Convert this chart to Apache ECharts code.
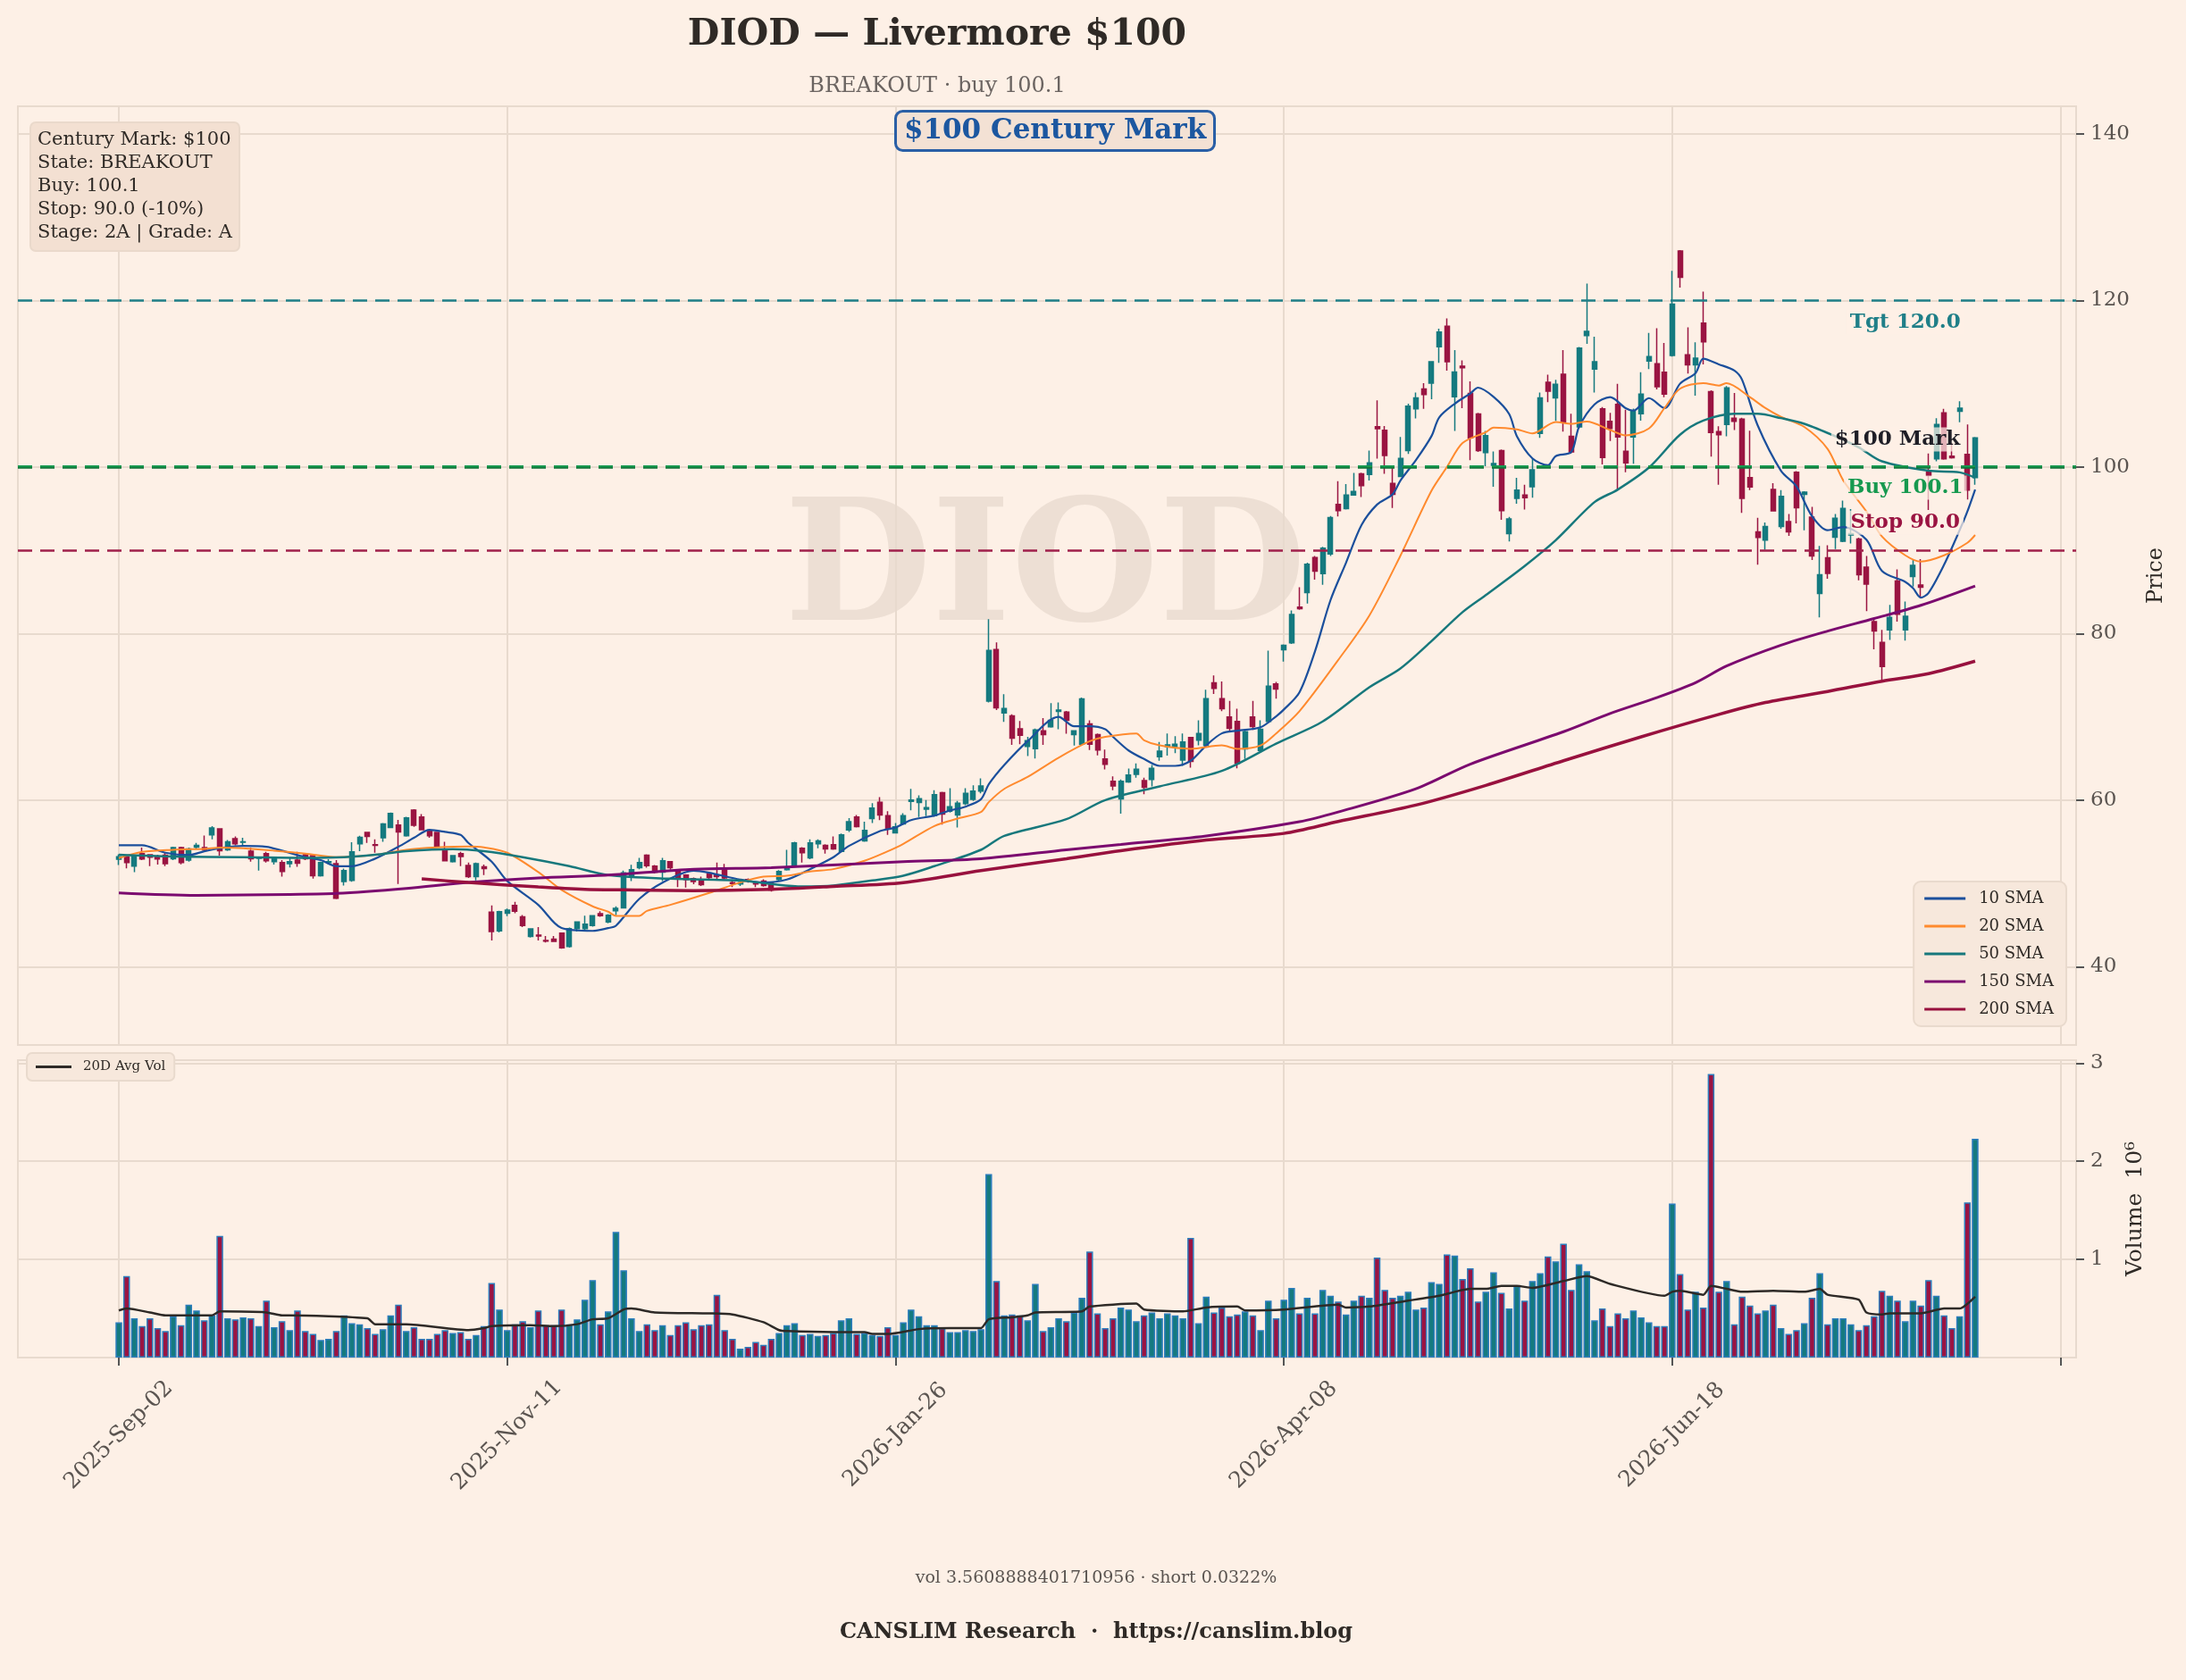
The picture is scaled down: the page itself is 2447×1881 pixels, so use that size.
<!DOCTYPE html>
<html>
<head>
<meta charset="utf-8">
<title>DIOD — Livermore $100</title>
<script src="https://cdn.jsdelivr.net/npm/echarts@6/dist/echarts.min.js"></script>
<style>
  html, body { margin: 0; padding: 0; background: #fdf0e6; }
  #chart { width: 2447px; height: 1881px; }
</style>
</head>
<body>
<div id="chart"></div>
<script>
// daily bars, index 0 = 2025-09-02
var opens = [
  52.9, 53.15, 52.07, 53.57, 53.43, 53.15, 53.4, 52.97, 54.29, 52.79,
  54.36, 54.29, 55.82, 56.54, 54.04, 55.36, 54.93, 53.86, 53.0, 53.57,
  52.61, 52.5, 52.36, 52.79, 53.43, 53.32, 50.93, 52.5, 52.36, 50.22,
  50.36, 54.75, 56.11, 54.65, 55.47, 56.72, 57.0, 55.72, 58.79, 57.97,
  56.36, 56.11, 54.04, 52.61, 53.57, 52.15, 50.82, 52.0, 46.54, 44.29,
  46.43, 47.36, 46.0, 43.64, 43.79, 43.14, 43.32, 44.04, 42.43, 44.57,
  44.57, 44.93, 46.36, 45.36, 46.72, 47.06, 50.92, 51.89, 53.39, 52.07,
  51.35, 52.6, 51.53, 50.99, 50.56, 50.35, 51.17, 51.0, 51.71, 50.1,
  49.92, 50.46, 50.1, 50.28, 50.1, 50.46, 51.64, 52.14, 54.21, 53.07,
  54.75, 54.57, 54.64, 53.85, 56.42, 57.96, 55.1, 57.78, 59.75, 58.14,
  56.07, 57.14, 59.85, 59.71, 58.92, 58.14, 60.89, 58.67, 58.21, 59.57,
  60.1, 61.07, 71.89, 78.07, 70.47, 70.11, 68.57, 66.43, 66.18, 68.32,
  68.79, 70.64, 70.57, 67.86, 66.71, 69.14, 67.86, 64.93, 62.25, 60.13,
  62.18, 63.09, 62.35, 62.47, 65.22, 66.42, 66.42, 64.81, 67.52, 67.19,
  66.57, 74.08, 72.19, 69.97, 69.44, 66.16, 69.97, 65.96, 69.44, 73.96,
  78.06, 78.88, 83.18, 84.91, 89.13, 87.2, 89.54, 95.49, 95.0, 96.64,
  99.18, 99.1, 104.84, 104.39, 98.03, 98.85, 101.97, 106.97, 109.35, 110.05,
  114.44, 116.9, 108.41, 112.1, 108.82, 106.36, 101.72, 100.2, 101.97, 92.0,
  96.23, 96.64, 97.62, 104.02, 110.17, 108.29, 111.12, 103.68, 104.8, 115.78,
  111.76, 106.98, 105.48, 107.51, 101.87, 103.6, 106.38, 112.7, 112.4, 111.38,
  113.37, 125.93, 113.45, 112.25, 117.28, 109.05, 104.24, 105.11, 105.86, 105.75,
  98.71, 92.21, 91.2, 97.29, 92.85, 93.45, 99.35, 96.72, 93.98, 84.8,
  89.09, 91.57, 91.08, 91.83, 91.35, 87.96, 81.42, 78.94, 80.44, 86.31,
  80.44, 86.83, 85.82, 99.35, 100.97, 106.49, 101.3, 106.68, 101.5, 98.71
];
var closes = [
  53.2, 52.5, 53.32, 52.93, 53.15, 52.93, 52.36, 54.29, 52.5, 54.15,
  54.57, 54.04, 56.65, 53.93, 55.0, 54.75, 55.0, 52.97, 53.15, 52.72,
  53.07, 51.43, 52.61, 52.43, 52.97, 50.93, 52.5, 52.6, 48.22, 51.54,
  53.79, 55.54, 55.65, 54.57, 57.15, 58.4, 56.18, 57.86, 56.97, 56.43,
  55.72, 54.4, 52.72, 53.32, 53.22, 50.82, 52.36, 51.79, 44.22, 46.61,
  46.79, 46.65, 44.93, 44.54, 43.68, 43.07, 43.04, 42.25, 44.57, 45.36,
  45.11, 46.11, 46.11, 46.18, 47.0, 51.28, 51.64, 52.49, 52.14, 51.35,
  52.71, 51.89, 50.71, 50.46, 50.21, 49.85, 50.71, 50.82, 50.64, 49.99,
  50.1, 50.28, 49.92, 49.74, 49.21, 51.42, 51.89, 54.85, 53.68, 54.85,
  55.1, 54.14, 54.14, 55.82, 57.42, 56.82, 56.35, 59.03, 58.21, 56.53,
  56.78, 58.14, 60.0, 60.17, 59.1, 60.64, 58.32, 59.21, 59.64, 60.82,
  61.07, 61.71, 77.97, 71.07, 71.0, 67.43, 67.79, 67.14, 68.43, 67.86,
  69.57, 70.82, 69.57, 68.32, 72.14, 66.71, 66.0, 64.29, 61.71, 62.27,
  63.0, 63.7, 61.53, 63.82, 65.88, 66.62, 66.7, 66.98, 64.65, 68.01,
  72.19, 73.42, 70.96, 68.62, 64.4, 68.21, 68.83, 68.5, 73.67, 73.34,
  78.59, 82.28, 82.98, 88.31, 87.49, 90.24, 93.93, 94.75, 96.64, 97.05,
  97.75, 100.49, 104.6, 101.36, 96.72, 101.03, 107.3, 108.29, 108.7, 112.63,
  116.2, 112.63, 111.4, 111.9, 103.49, 101.97, 103.77, 100.4, 94.75, 93.77,
  97.21, 96.31, 99.67, 108.29, 109.1, 109.93, 105.37, 101.8, 114.28, 116.27,
  112.62, 101.12, 104.62, 103.6, 100.48, 106.76, 108.75, 113.26, 109.62, 108.75,
  119.54, 122.77, 112.25, 113.07, 115.03, 104.13, 103.87, 109.5, 105.48, 96.23,
  97.59, 91.53, 92.85, 94.73, 96.46, 92.21, 95.11, 96.98, 89.31, 87.06,
  87.21, 93.83, 95.03, 92.0, 87.06, 85.93, 80.29, 76.04, 81.95, 82.32,
  82.06, 88.19, 85.56, 98.97, 105.11, 100.97, 101.1, 107.06, 97.21, 103.49
];
var lows = [
  52.2, 51.8, 51.36, 52.8, 52.07, 52.25, 52.07, 52.8, 52.3, 52.6,
  54.15, 53.9, 55.29, 53.32, 53.9, 54.57, 54.4, 52.61, 51.54, 52.5,
  52.25, 50.82, 51.9, 52.0, 52.8, 50.57, 50.8, 52.3, 48.1, 49.75,
  50.2, 53.86, 54.86, 53.68, 55.0, 56.65, 49.93, 55.6, 56.8, 56.4,
  55.47, 54.3, 52.7, 52.5, 52.07, 50.65, 50.36, 51.0, 43.14, 44.1,
  46.07, 46.43, 44.75, 43.5, 43.14, 42.9, 42.95, 42.15, 42.3, 44.22,
  44.22, 44.8, 46.0, 45.2, 46.18, 46.99, 50.28, 51.7, 51.89, 51.2,
  50.28, 51.64, 49.56, 49.49, 49.9, 49.7, 50.5, 50.46, 50.5, 49.56,
  49.7, 50.1, 49.56, 49.6, 49.03, 50.3, 51.53, 52.0, 52.49, 52.9,
  54.21, 53.57, 54.03, 53.7, 56.17, 56.71, 54.99, 57.25, 57.6, 55.82,
  55.99, 57.0, 58.78, 57.96, 58.07, 58.0, 57.07, 58.5, 56.71, 59.39,
  59.9, 60.82, 71.71, 70.8, 69.39, 66.64, 66.71, 65.29, 65.0, 66.64,
  68.7, 68.5, 67.96, 66.54, 66.6, 66.0, 65.36, 63.68, 61.18, 58.37,
  62.06, 62.68, 60.71, 61.65, 64.73, 65.34, 65.63, 64.11, 63.9, 66.57,
  66.4, 72.73, 70.67, 68.21, 63.82, 64.93, 68.42, 65.9, 69.24, 72.19,
  76.62, 78.75, 82.86, 83.6, 86.47, 85.85, 89.3, 94.06, 94.88, 96.6,
  96.39, 98.36, 101.0, 99.18, 95.08, 98.77, 101.56, 105.83, 106.97, 108.12,
  112.51, 111.57, 104.31, 107.06, 100.82, 101.8, 100.08, 97.62, 93.65, 91.06,
  95.57, 94.88, 96.31, 103.49, 107.79, 105.54, 104.24, 101.61, 104.62, 114.77,
  108.94, 100.29, 103.11, 97.21, 99.35, 100.37, 105.56, 111.76, 109.32, 108.38,
  113.26, 121.53, 111.2, 108.56, 112.32, 101.23, 97.85, 103.68, 104.43, 94.47,
  97.21, 88.26, 90.07, 94.66, 92.59, 91.72, 93.22, 92.4, 88.83, 81.95,
  86.57, 90.14, 90.97, 90.82, 86.38, 82.7, 78.11, 74.35, 79.24, 81.42,
  79.16, 85.63, 84.32, 94.84, 100.67, 100.86, 101.0, 105.37, 96.08, 97.85
];
var highs = [
  53.5, 53.3, 53.4, 54.29, 53.5, 53.43, 53.68, 54.4, 54.4, 54.3,
  54.86, 55.75, 56.86, 56.6, 55.2, 55.65, 55.47, 54.29, 53.2, 53.79,
  53.2, 52.79, 53.07, 53.79, 53.6, 53.4, 52.6, 52.9, 52.79, 51.79,
  54.93, 55.72, 56.2, 55.29, 57.25, 58.5, 57.61, 58.0, 58.9, 58.33,
  56.5, 56.2, 55.0, 53.4, 53.79, 52.5, 52.5, 52.25, 47.36, 46.7,
  46.97, 47.79, 46.2, 44.6, 44.75, 43.68, 43.68, 44.1, 44.7, 45.4,
  46.11, 46.18, 46.65, 46.3, 47.25, 51.53, 52.24, 53.06, 53.5, 52.2,
  53.06, 52.7, 51.7, 51.1, 50.7, 50.81, 51.3, 52.49, 52.35, 50.46,
  50.3, 50.6, 50.2, 50.5, 50.2, 51.6, 54.03, 55.0, 54.35, 55.3,
  55.3, 54.7, 55.64, 56.0, 57.85, 58.21, 57.42, 59.64, 60.35, 58.67,
  57.25, 58.43, 61.35, 60.57, 60.0, 61.2, 61.0, 61.42, 59.9, 61.42,
  61.78, 62.61, 81.72, 78.93, 72.72, 70.3, 69.5, 67.6, 68.6, 69.86,
  71.64, 71.71, 70.71, 68.4, 72.3, 69.57, 68.0, 66.07, 62.86, 62.47,
  63.8, 64.4, 62.68, 64.23, 66.98, 68.0, 67.68, 68.01, 67.6, 69.57,
  73.25, 74.98, 74.24, 71.9, 70.96, 68.5, 71.9, 69.57, 77.93, 74.2,
  78.7, 82.77, 85.56, 88.5, 89.3, 90.4, 94.1, 98.28, 97.95, 99.27,
  99.3, 101.97, 108.0, 104.92, 100.0, 103.61, 107.59, 108.94, 110.05, 112.7,
  116.6, 117.84, 114.03, 112.8, 110.26, 106.5, 104.31, 101.85, 102.1, 94.0,
  98.69, 97.87, 101.03, 108.94, 111.08, 110.46, 114.02, 106.38, 114.39, 122.02,
  115.63, 107.2, 106.49, 109.99, 106.87, 107.0, 111.38, 116.08, 116.65, 114.88,
  123.53, 126.04, 116.76, 114.96, 121.04, 109.2, 104.88, 109.7, 108.87, 105.9,
  104.35, 93.9, 93.34, 98.04, 97.21, 94.35, 99.5, 97.09, 95.22, 90.52,
  90.59, 94.35, 95.97, 94.95, 91.5, 89.31, 81.8, 80.44, 83.45, 87.7,
  83.83, 88.83, 88.94, 101.61, 105.86, 106.98, 102.9, 107.89, 105.11, 103.6
];
// volume in millions
var volumes = [
  0.36, 0.83, 0.40, 0.32, 0.40, 0.30, 0.27, 0.42, 0.33, 0.54,
  0.48, 0.38, 0.43, 1.24, 0.40, 0.39, 0.41, 0.40, 0.32, 0.58,
  0.31, 0.37, 0.28, 0.48, 0.27, 0.24, 0.18, 0.19, 0.27, 0.43,
  0.35, 0.34, 0.30, 0.24, 0.29, 0.43, 0.54, 0.27, 0.31, 0.19,
  0.19, 0.24, 0.28, 0.25, 0.26, 0.19, 0.23, 0.32, 0.76, 0.49,
  0.28, 0.34, 0.37, 0.31, 0.48, 0.33, 0.33, 0.49, 0.34, 0.39,
  0.59, 0.79, 0.34, 0.47, 1.28, 0.89, 0.40, 0.27, 0.34, 0.28,
  0.33, 0.23, 0.33, 0.36, 0.29, 0.33, 0.34, 0.64, 0.28, 0.19,
  0.09, 0.11, 0.16, 0.13, 0.19, 0.25, 0.33, 0.35, 0.23, 0.24,
  0.22, 0.23, 0.25, 0.38, 0.40, 0.24, 0.25, 0.23, 0.22, 0.31,
  0.23, 0.36, 0.49, 0.42, 0.33, 0.33, 0.30, 0.26, 0.26, 0.28,
  0.27, 0.29, 1.87, 0.78, 0.43, 0.44, 0.43, 0.38, 0.75, 0.27,
  0.31, 0.40, 0.37, 0.46, 0.61, 1.08, 0.45, 0.30, 0.40, 0.51,
  0.49, 0.37, 0.43, 0.46, 0.40, 0.45, 0.43, 0.40, 1.22, 0.35,
  0.62, 0.46, 0.51, 0.42, 0.44, 0.47, 0.43, 0.28, 0.58, 0.40,
  0.59, 0.71, 0.45, 0.61, 0.45, 0.69, 0.63, 0.57, 0.44, 0.58,
  0.63, 0.61, 1.02, 0.69, 0.61, 0.63, 0.67, 0.49, 0.51, 0.77,
  0.75, 1.05, 1.04, 0.80, 0.91, 0.57, 0.67, 0.87, 0.66, 0.50,
  0.73, 0.58, 0.78, 0.86, 1.03, 0.98, 1.16, 0.69, 0.95, 0.88,
  0.38, 0.50, 0.32, 0.45, 0.40, 0.48, 0.41, 0.36, 0.32, 0.32,
  1.57, 0.85, 0.49, 0.67, 0.51, 2.89, 0.67, 0.78, 0.34, 0.62,
  0.53, 0.45, 0.48, 0.54, 0.30, 0.24, 0.28, 0.35, 0.61, 0.86,
  0.34, 0.40, 0.40, 0.34, 0.28, 0.33, 0.42, 0.68, 0.63, 0.58,
  0.37, 0.58, 0.53, 0.79, 0.63, 0.43, 0.30, 0.42, 1.58, 2.23
];

// moving averages as [bar index, value]
var sma10 = [[0,54.57],[3,54.57],[6,53.68],[9,53.4],[11,53.86],[13,54.22],[16,54.5],[19,54.4],[21,53.93],[24,53.15],[26,52.79],[28,52.07],[30,52.07],[33,52.97],[36,54.4],[38,55.47],[40,56.43],[42,56.18],[44,55.82],[45,54.86],[48,52.61],[50,50.29],[54,47.43],[57,44.64],[61,44.3],[63,44.63],[64,44.92],[67,48.13],[70,50.1],[74,51.53],[76,51.28],[80,50.46],[83,50.1],[86,50.46],[89,51.71],[92,53.14],[94,54.5],[98,56.28],[100,56.71],[102,57.6],[105,58.14],[107,58.75],[109,59.21],[111,60.1],[112,61.89],[114,64.21],[117,67.07],[121,70.0],[123,68.86],[125,68.86],[127,68.5],[128,67.6],[130,65.96],[132,64.93],[134,64.11],[136,64.11],[138,64.73],[140,66.57],[142,68.01],[144,68.34],[147,68.75],[149,70.06],[150,70.88],[152,72.93],[154,77.85],[156,84.0],[158,88.5],[160,93.03],[162,95.49],[164,96.72],[165,98.36],[167,100.82],[169,103.69],[170,105.95],[172,107.59],[174,108.82],[175,109.52],[177,108.41],[179,106.36],[180,103.69],[182,101.03],[184,100.21],[185,101.3],[187,101.8],[188,104.8],[190,107.51],[192,108.38],[194,107.06],[195,106.76],[197,108.26],[199,107.06],[201,109.99],[203,111.27],[204,113.0],[206,112.32],[208,111.57],[209,110.44],[211,104.99],[214,99.54],[216,97.66],[218,94.09],[220,92.4],[222,92.77],[225,91.27],[227,87.51],[230,86.2],[231,85.44],[232,84.32],[233,84.88],[235,88.26],[237,92.4],[238,94.65],[239,97.29]];
var sma20 = [[0,53.04],[3,53.79],[7,54.04],[11,54.15],[13,54.29],[16,54.22],[20,53.93],[24,53.57],[28,53.15],[33,53.43],[37,54.04],[41,54.32],[45,54.43],[47,54.32],[50,53.68],[54,51.36],[57,49.22],[61,47.25],[63,46.6],[64,46.1],[67,46.1],[68,46.7],[71,47.42],[76,48.85],[80,50.1],[83,50.81],[86,50.92],[89,51.42],[92,51.71],[96,52.71],[99,53.85],[101,54.74],[105,56.89],[108,57.78],[111,58.57],[112,59.75],[114,61.35],[117,62.78],[121,65.1],[125,67.07],[127,67.6],[131,68.01],[132,67.19],[134,66.57],[138,66.16],[142,66.57],[144,66.16],[147,66.57],[149,68.01],[152,70.67],[157,76.83],[161,82.16],[165,89.34],[169,97.13],[171,100.0],[173,102.87],[176,104.18],[177,104.72],[180,104.51],[182,104.02],[185,105.4],[187,105.18],[189,105.44],[192,104.43],[194,103.79],[197,104.62],[199,107.06],[201,109.39],[204,110.07],[206,109.77],[207,110.07],[210,108.38],[212,107.06],[214,106.01],[217,104.8],[220,102.17],[222,98.41],[225,94.65],[227,91.65],[230,89.39],[232,88.64],[235,89.39],[238,90.89],[239,91.83]];
var sma50 = [[0,53.43],[7,53.22],[16,53.15],[24,53.07],[29,53.15],[33,53.43],[37,53.86],[43,54.11],[47,53.86],[52,53.15],[58,52.07],[63,51.0],[71,50.56],[80,50.35],[84,49.92],[88,49.63],[92,49.74],[97,50.35],[101,50.92],[105,52.07],[111,54.03],[114,55.71],[122,57.71],[127,60.0],[134,61.65],[142,63.5],[149,66.78],[155,69.44],[161,73.55],[165,75.8],[169,79.08],[173,82.57],[176,84.62],[181,88.11],[185,91.2],[190,95.78],[193,97.29],[197,99.92],[201,103.86],[204,105.56],[208,106.38],[211,106.38],[214,105.86],[217,105.18],[221,103.68],[224,102.36],[227,100.67],[233,99.54],[237,99.35],[239,98.71]];
var sma150 = [[0,48.86],[10,48.57],[22,48.68],[28,48.79],[37,49.39],[45,50.11],[54,50.65],[63,51.0],[74,51.71],[84,51.89],[101,52.6],[111,52.96],[122,54.03],[129,54.67],[140,55.7],[152,57.4],[157,58.57],[167,61.36],[174,64.32],[186,68.21],[192,70.4],[198,72.3],[203,74.1],[207,76.1],[214,78.6],[220,80.29],[226,81.8],[232,83.38],[239,85.71]];
var sma200 = [[39,50.54],[45,50.11],[54,49.57],[60,49.29],[65,49.22],[74,49.13],[84,49.28],[92,49.63],[101,50.1],[111,51.53],[122,52.96],[129,53.92],[140,55.2],[150,56.0],[157,57.43],[167,59.4],[176,61.77],[186,64.73],[196,67.6],[206,70.29],[212,71.72],[220,73.04],[227,74.28],[233,75.18],[239,76.68]];
var avgVol20 = [[0,0.48],[1,0.50],[4,0.46],[6,0.43],[12,0.43],[13,0.47],[19,0.46],[21,0.43],[22,0.43],[32,0.40],[33,0.34],[37,0.34],[45,0.28],[47,0.30],[48,0.32],[53,0.33],[56,0.32],[59,0.34],[61,0.39],[63,0.40],[65,0.49],[66,0.50],[69,0.46],[76,0.45],[79,0.44],[83,0.36],[85,0.28],[86,0.27],[92,0.26],[96,0.26],[97,0.24],[99,0.24],[103,0.29],[107,0.30],[111,0.30],[112,0.39],[115,0.41],[117,0.43],[118,0.46],[124,0.47],[125,0.52],[131,0.55],[132,0.49],[137,0.47],[140,0.51],[144,0.52],[145,0.48],[150,0.49],[157,0.54],[158,0.51],[161,0.52],[166,0.58],[170,0.63],[172,0.67],[174,0.70],[176,0.70],[178,0.73],[180,0.73],[182,0.71],[186,0.78],[189,0.83],[192,0.75],[199,0.63],[200,0.67],[201,0.68],[204,0.64],[205,0.73],[207,0.70],[209,0.67],[213,0.68],[217,0.67],[219,0.70],[220,0.64],[224,0.59],[225,0.46],[227,0.44],[228,0.45],[232,0.45],[235,0.50],[237,0.50],[239,0.62]];

var tickDays = [0, 50, 100, 150, 200, 250];
var tickLabels = ['2025-Sep-02', '2025-Nov-11', '2026-Jan-26', '2026-Apr-08', '2026-Jun-18', ''];
var priceTicks = [40, 60, 80, 100, 120, 140];
var volTicks = [1, 2, 3];

var FONT = '"DejaVu Serif", "Liberation Serif", serif';
var UP = '#157a7f', DOWN = '#9a1442';
var GRID = '#e8dace';
var PAD = 13, LAST = 252;   // empty room either side of the bars

var cats = [];
for (var k = -PAD; k <= LAST; k++) cats.push(String(k));

var empty = [];
for (var p = 0; p < PAD; p++) empty.push('-');

var candles = empty.map(function () { return ['-', '-', '-', '-']; }).concat(
  opens.map(function (o, i) { return [o, closes[i], lows[i], highs[i]]; }));

var volBars = empty.concat(volumes.map(function (v, i) {
  return { value: v, itemStyle: { color: closes[i] >= opens[i] ? UP : DOWN } };
}));

function shift(points) {
  return points.map(function (pt) { return [pt[0] + PAD, pt[1]]; });
}

function onTick(index) {
  var d = index - PAD;
  return d >= 0 && d % 50 === 0;
}

function smaSeries(name, pts, color, width) {
  return {
    name: name, type: 'line', data: shift(pts),
    xAxisIndex: 0, yAxisIndex: 0,
    showSymbol: false, symbol: 'none', smooth: 0.3, z: 4,
    lineStyle: { color: color, width: width }, itemStyle: { color: color }
  };
}

var chart = echarts.init(document.getElementById('chart'));

var option = {
  backgroundColor: '#fdf0e6',
  animation: false,
  textStyle: { fontFamily: FONT },
  title: [
    {
      text: 'DIOD — Livermore $100', left: 1044, top: 14, textAlign: 'center',
      textStyle: { fontFamily: FONT, fontSize: 41, fontWeight: 'bold', color: '#2f2a26' }
    },
    {
      text: 'BREAKOUT · buy 100.1', left: 1044, top: 80, textAlign: 'center',
      textStyle: { fontFamily: FONT, fontSize: 24, fontWeight: 'normal', color: '#6b6461' }
    },
    {
      text: 'Century Mark: $100\nState: BREAKOUT\nBuy: 100.1\nStop: 90.0 (-10%)\nStage: 2A | Grade: A',
      left: 34, top: 137, padding: [7, 8, 7, 8],
      backgroundColor: '#f3e0d2', borderColor: '#ead9cb', borderWidth: 2, borderRadius: 6,
      textStyle: { fontFamily: FONT, fontSize: 21, lineHeight: 26, fontWeight: 'normal', color: '#2f2a26' }
    },
    {
      text: '$100 Century Mark', left: 1171, top: 124, textAlign: 'center', padding: [7, 10, 7, 10],
      backgroundColor: '#f3e1d4', borderColor: '#2a5fa6', borderWidth: 3, borderRadius: 8,
      textStyle: { fontFamily: FONT, fontSize: 31, fontWeight: 'bold', color: '#1c57a0' }
    },
    {
      text: 'vol 3.5608888401710956 · short 0.0322%', left: 1222, top: 1753, textAlign: 'center',
      textStyle: { fontFamily: FONT, fontSize: 19, fontWeight: 'normal', color: '#5a5450' }
    },
    {
      text: 'CANSLIM Research  ·  https://canslim.blog', left: 1222, top: 1811, textAlign: 'center',
      textStyle: { fontFamily: FONT, fontSize: 24, fontWeight: 'bold', color: '#2f2a26' }
    }
  ],
  graphic: [{
    type: 'text', x: 1170, y: 645, z: 0, silent: true,
    style: {
      text: 'DIOD', font: 'bold 190px "DejaVu Serif"', fill: '#eddfd4',
      align: 'center', verticalAlign: 'middle'
    }
  }],
  legend: [
    {
      data: ['10 SMA', '20 SMA', '50 SMA', '150 SMA', '200 SMA'],
      orient: 'vertical', right: 134, top: 987,
      icon: 'rect', itemWidth: 46, itemHeight: 3, itemGap: 13,
      backgroundColor: '#f7e8dc', borderColor: '#e9dacd', borderWidth: 2, borderRadius: 8,
      padding: [10, 14, 10, 12],
      textStyle: { fontFamily: FONT, fontSize: 18, color: '#2f2a26', padding: [0, 0, 0, 10] }
    },
    {
      data: ['20D Avg Vol'], left: 30, top: 1179,
      icon: 'rect', itemWidth: 40, itemHeight: 3,
      backgroundColor: '#f7e8dc', borderColor: '#e9dacd', borderWidth: 2, borderRadius: 6,
      padding: [8, 10, 8, 10],
      textStyle: { fontFamily: FONT, fontSize: 15, color: '#2f2a26', padding: [0, 0, 0, 8] }
    }
  ],
  grid: [
    { left: 20, right: 123, top: 119, height: 1051, show: true, borderColor: GRID, borderWidth: 2 },
    { left: 20, right: 123, top: 1187, height: 333, show: true, borderColor: GRID, borderWidth: 2 }
  ],
  xAxis: [
    {
      type: 'category', gridIndex: 0, data: cats, boundaryGap: false,
      axisLine: { show: false }, axisTick: { show: false }, axisLabel: { show: false },
      splitLine: { show: true, interval: onTick, lineStyle: { color: GRID, width: 2 } }
    },
    {
      type: 'category', gridIndex: 1, data: cats, boundaryGap: false,
      axisLine: { show: false },
      axisTick: { show: true, interval: onTick, length: 9, lineStyle: { color: '#555', width: 2 } },
      axisLabel: {
        interval: onTick, rotate: 45, align: 'center', verticalAlign: 'middle', margin: 87,
        fontFamily: FONT, fontSize: 25, color: '#5a5450',
        formatter: function (value) {
          var n = tickDays.indexOf(Number(value));
          return n >= 0 ? tickLabels[n] : '';
        }
      },
      splitLine: { show: true, interval: onTick, lineStyle: { color: GRID, width: 2 } }
    }
  ],
  yAxis: [
    {
      type: 'value', gridIndex: 0, position: 'right', min: 30.6, max: 143.3, scale: true,
      name: 'Price', nameLocation: 'middle', nameGap: 78, nameRotate: 90,
      nameTextStyle: { fontFamily: FONT, fontSize: 24, color: '#2f2a26' },
      axisLine: { show: false },
      axisTick: { show: true, customValues: priceTicks, length: 9, lineStyle: { color: '#555', width: 2 } },
      axisLabel: { customValues: priceTicks, margin: 16, fontFamily: FONT, fontSize: 23, color: '#5a5450' },
      splitLine: { show: true, lineStyle: { color: GRID, width: 2 } }
    },
    {
      type: 'value', gridIndex: 1, position: 'right', min: 0, max: 3.03,
      name: 'Volume  10⁶', nameLocation: 'middle', nameGap: 54, nameRotate: 90,
      nameTextStyle: { fontFamily: FONT, fontSize: 25, color: '#2f2a26' },
      axisLine: { show: false },
      axisTick: { show: true, customValues: volTicks, length: 9, lineStyle: { color: '#555', width: 2 } },
      axisLabel: { customValues: volTicks, margin: 16, fontFamily: FONT, fontSize: 23, color: '#5a5450' },
      splitLine: { show: true, lineStyle: { color: GRID, width: 2 } }
    }
  ],
  series: [
    {
      name: 'DIOD', type: 'candlestick', xAxisIndex: 0, yAxisIndex: 0,
      data: candles, barWidth: 5.5, z: 3,
      itemStyle: { color: UP, color0: DOWN, borderColor: UP, borderColor0: DOWN, borderWidth: 1.5 },
      markLine: {
        silent: true, symbol: ['none', 'none'], label: { show: false },
        data: [
          { yAxis: 120, lineStyle: { color: '#1f7f88', type: [16, 9], width: 2.5 } },
          { yAxis: 100, lineStyle: { color: '#11753a', type: [16, 9], width: 3.5 } },
          { yAxis: 100.1, lineStyle: { color: '#16994f', type: [16, 9], width: 2 } },
          { yAxis: 90, lineStyle: { color: '#a0204b', type: [16, 9], width: 2.5 } }
        ]
      },
      markPoint: {
        silent: true, symbol: 'rect', symbolSize: 1,
        itemStyle: { color: 'rgba(0,0,0,0)' },
        label: {
          show: true, position: 'inside', formatter: '{b}',
          fontFamily: FONT, fontSize: 23, fontWeight: 'bold',
          backgroundColor: 'rgba(253,240,230,0.72)', padding: [2, 4]
        },
        data: [
          { name: 'Tgt 120.0', coord: [230 + PAD, 117.4], label: { color: '#1f7f88' } },
          { name: '$100 Mark', coord: [229 + PAD, 103.3], label: { color: '#1e1e26' } },
          { name: 'Buy 100.1', coord: [230 + PAD, 97.5], label: { color: '#16994f' } },
          { name: 'Stop 90.0', coord: [230 + PAD, 93.3], label: { color: '#9a1442' } }
        ]
      }
    },
    smaSeries('10 SMA', sma10, '#1b4f9c', 2.2),
    smaSeries('20 SMA', sma20, '#ff8a2e', 2),
    smaSeries('50 SMA', sma50, '#17787c', 2.5),
    smaSeries('150 SMA', sma150, '#7b0a6f', 3),
    smaSeries('200 SMA', sma200, '#98113e', 3.5),
    {
      name: 'Volume', type: 'bar', xAxisIndex: 1, yAxisIndex: 1,
      data: volBars, barWidth: 7.5,
      itemStyle: { borderColor: '#2d7dbd', borderWidth: 1.5 }
    },
    {
      name: '20D Avg Vol', type: 'line', xAxisIndex: 1, yAxisIndex: 1,
      data: shift(avgVol20), showSymbol: false, symbol: 'none', smooth: 0.2, z: 4,
      lineStyle: { color: '#2e2a27', width: 2.5 }, itemStyle: { color: '#2e2a27' }
    }
  ]
};

chart.setOption(option);
</script>
</body>
</html>
